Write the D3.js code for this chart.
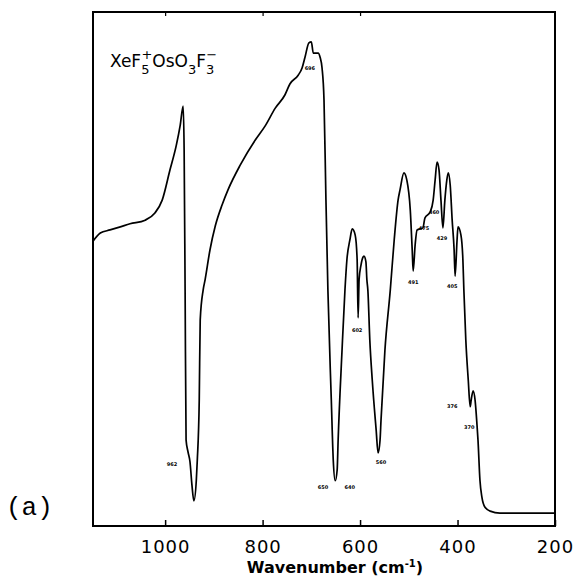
<!DOCTYPE html>
<html>
<head>
<meta charset="utf-8">
<script src="https://cdn.jsdelivr.net/npm/d3@7"></script>
<style>
  body{margin:0;background:#fff;}
  svg{display:block;}
</style>
</head>
<body>
<svg id="chart" width="580" height="582"></svg>
<script>
// IR spectrum, XeF5+ OsO3F3-
const wavenumber = [1148,1133,1113,1092,1072,1041,1021,1006,990,977,969,963,961,959,957,953,949,945,941,936,934,930,928,922,918,908,897,883,871,846,815,795,774,754,744,727,719,713,705,700,696,686,682,678,674,670,666,659,655,651,647,645,637,631,627,621,616,610,606,604,602,598,594,592,588,586,584,580,575,567,563,559,557,549,538,530,522,518,510,504,497,493,491,487,483,471,467,456,450,446,442,438,434,430,426,422,419,415,411,407,405,401,399,393,389,387,383,378,374,372,368,364,360,358,354,350,344,333,313,200];
const transmittance = [55.4,57.0,57.6,58.2,58.8,59.5,60.9,63.4,69.3,74.1,78.0,81.7,73.2,45.9,16.7,14.4,12.5,8.0,4.9,8.9,12.8,24.5,40.1,45.9,47.9,53.7,58.4,62.5,65.4,70.2,75.1,77.8,81.3,83.9,86.0,87.7,89.1,91.2,94.0,94.2,92.0,92.0,91.2,89.1,82.9,63.4,45.9,24.5,12.8,8.8,10.9,16.7,34.2,45.9,51.8,55.6,57.8,56.6,51.8,40.5,47.9,50.8,52.3,52.5,51.4,47.9,45.9,36.2,28.4,18.7,14.2,16.7,20.6,34.2,45.9,55.6,63.4,65.4,68.7,67.3,61.5,53.7,49.6,54.7,57.6,58.0,59.9,61.1,63.4,67.3,70.8,69.3,63.4,58.0,63.4,67.3,68.7,66.3,59.5,53.7,48.6,55.6,58.2,56.6,51.8,45.9,36.2,28.4,23.2,24.5,26.3,24.5,19.6,16.7,8.9,5.6,3.7,2.9,2.5,2.5];

// band annotations: text, anchor wavenumber, anchor transmittance
const bandText = ['962','696','650','640','602','560','491','475','460','429','405','376','370'];
const bandWn   = [986,703,676,621,606,557,491,469,448,432,411,411,376];
const bandT    = [11.9,88.9,7.4,7.4,38.1,12.3,47.3,57.8,60.9,56.0,46.5,23.3,19.1];

const tickValues = [1000,800,600,400,200];
const xDomain = [1148,200];
const yDomain = [0,100];

const svg = d3.select('#chart');
const m = {left:93, right:555, top:12, bottom:526};

const x = d3.scaleLinear().domain(xDomain).range([m.left, m.right]);
const y = d3.scaleLinear().domain(yDomain).range([m.bottom, m.top]);

// frame
svg.append('rect')
  .attr('x', m.left).attr('y', m.top)
  .attr('width', m.right-m.left).attr('height', m.bottom-m.top)
  .attr('fill','none').attr('stroke','#000').attr('stroke-width',2);

// bottom axis, ticks pointing inward
const xAxis = d3.axisBottom(x).tickValues(tickValues).tickSize(-6).tickPadding(14).tickFormat(d3.format('d'));
const gx = svg.append('g').attr('transform',`translate(0,${m.bottom})`).call(xAxis);
gx.select('.domain').remove();
gx.selectAll('.tick line').attr('stroke','#000').attr('stroke-width',1.5);
gx.selectAll('.tick text')
  .attr('fill','#000')
  .style('font-family','"DejaVu Sans", sans-serif')
  .style('font-size','18px')
  .style('letter-spacing','1px');

// top ticks, inward
const gt = svg.append('g').attr('transform',`translate(0,${m.top})`)
  .call(d3.axisTop(x).tickValues(tickValues.slice(0,3)).tickSize(-4).tickFormat(''));
gt.select('.domain').remove();
gt.selectAll('.tick line').attr('stroke','#000').attr('stroke-width',1.2);

// spectrum
svg.append('path')
  .datum(transmittance)
  .attr('d', d3.line().x((d,i)=>x(wavenumber[i])).y(d=>y(d)).curve(d3.curveMonotoneX))
  .attr('fill','none').attr('stroke','#000')
  .attr('stroke-width',1.7).attr('stroke-linejoin','round');

// band labels (tiny in the scan)
svg.append('g').selectAll('text')
  .data(bandText)
  .join('text')
  .attr('x',(d,i)=>x(bandWn[i]))
  .attr('y',(d,i)=>y(bandT[i]))
  .attr('text-anchor','middle')
  .attr('dominant-baseline','middle')
  .style('font-family','"DejaVu Sans", sans-serif')
  .style('font-size','5px')
  .style('font-weight','bold')
  .text(d=>d);

// compound label
const title = svg.append('text')
  .attr('x',110).attr('y',67)
  .style('font-family','"DejaVu Sans", sans-serif')
  .style('font-size','17px');
title.append('tspan').text('XeF');
title.append('tspan').attr('dy',7).style('font-size','13px').text('5');
title.append('tspan').attr('dx',-8).attr('dy',-15).style('font-size','13px').text('+');
title.append('tspan').attr('dy',8).text('OsO');
title.append('tspan').attr('dy',7).style('font-size','13px').text('3');
title.append('tspan').attr('dy',-7).text('F');
title.append('tspan').attr('dy',7).style('font-size','13px').text('3');
title.append('tspan').attr('dx',-8).attr('dy',-15).style('font-size','13px').text('\u2212');

// axis title
const xt = svg.append('text')
  .attr('x',335).attr('y',573)
  .attr('text-anchor','middle')
  .style('font-family','"DejaVu Sans", sans-serif')
  .style('font-size','16px')
  .style('font-weight','bold');
xt.append('tspan').text('Wavenumber  (cm');
xt.append('tspan').attr('dy',-6).style('font-size','10px').text('-1');
xt.append('tspan').attr('dy',6).text(')');

// panel letter
svg.append('text')
  .attr('x',6).attr('y',515)
  .style('font-family','"Liberation Mono", monospace')
  .style('font-size','26px')
  .text('(a)');
</script>
</body>
</html>
